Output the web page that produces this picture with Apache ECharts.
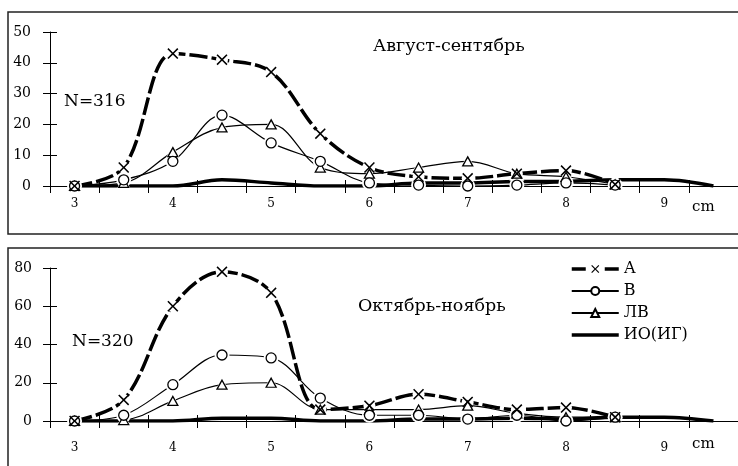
<!DOCTYPE html>
<html>
<head>
<meta charset="utf-8">
<script src="https://cdn.jsdelivr.net/npm/echarts@6/dist/echarts.min.js"></script>
<style>
html, body { margin: 0; padding: 0; background: #fff; }
#chart { width: 738px; height: 466px; }
</style>
</head>
<body>
<div id="chart"></div>
<script>
// длина, см (категории оси X)
const sizes = ['3', '3.5', '4', '4.5', '5', '5.5', '6', '6.5', '7', '7.5', '8', '8.5', '9', '9.5']

// август-сентябрь
const augA = [0, 6, 43, 41, 37, 17, 6, 3, 2.5, 4, 5, 0.5]
const augB = [0, 2, 8, 23, 14, 8, 1, 0.3, 0, 0.3, 1, 0.3]
const augLV = [0, 1, 11, 19, 20, 6, 4, 6, 8, 4, 3, 0.5]
const augIO = [0, 0, 0, 2, 1, 0, 0, 1, 1, 1.5, 1.5, 2, 2, 0]

// октябрь-ноябрь
const octA = [0, 11, 60, 78, 67, 6, 8, 14, 10, 6, 7, 2]
const octB = [0, 3, 19, 34.5, 33, 12, 3, 3, 1, 3, 0, 2]
const octLV = [0, 0.5, 10.5, 19, 20, 6, 6, 6, 8, 4, 2, 2]
const octIO = [0, 0, 0, 1.5, 1.5, 0, 0, 1, 1, 1.5, 1, 2, 2, 0]

const font = 'DejaVu Serif'
const crossPath = 'path://M0,1L1,0L5,4L9,0L10,1L6,5L10,9L9,10L5,6L1,10L0,9L4,5Z'

function xAxes (gi, margin) {
    return [{
        type: 'category',
        gridIndex: gi,
        position: 'bottom',
        data: sizes,
        axisLine: { show: true, lineStyle: { color: '#000', width: 1 } },
        axisTick: { show: true, interval: 0, length: 7, lineStyle: { color: '#000', width: 1 } },
        axisLabel: { interval: 1, margin: margin, color: '#000', fontFamily: font, fontSize: 12 },
        splitLine: { show: false }
    }, {
        type: 'category',
        gridIndex: gi,
        position: 'bottom',
        offset: 0,
        data: sizes,
        axisLine: { show: false },
        axisTick: { show: true, interval: 0, inside: true, length: 6, lineStyle: { color: '#000', width: 1 } },
        axisLabel: { show: false },
        splitLine: { show: false }
    }]
}

function yAxes (gi, max, step, margin) {
    return [{
        type: 'value',
        gridIndex: gi,
        position: 'left',
        min: 0,
        max: max,
        interval: step,
        axisLine: { show: true, lineStyle: { color: '#000', width: 1 } },
        axisTick: { show: true, length: 7, lineStyle: { color: '#000', width: 1 } },
        axisLabel: { margin: margin, color: '#000', fontFamily: font, fontSize: 14 },
        splitLine: { show: false }
    }, {
        type: 'value',
        gridIndex: gi,
        position: 'left',
        offset: 0,
        min: 0,
        max: max,
        interval: step,
        axisLine: { show: false },
        axisTick: { show: true, inside: true, length: 7, lineStyle: { color: '#000', width: 1 } },
        axisLabel: { show: false },
        splitLine: { show: false }
    }]
}

// точки для маркеров: [категория, значение]
function points (arr) {
    return arr.map((v, i) => [sizes[i], v])
}

function markers (gi, arr, symbol, size, style) {
    const idx = gi * 2
    return [{
        // белый ореол вокруг маркера
        name: 'halo',
        type: 'scatter',
        xAxisIndex: idx,
        yAxisIndex: idx,
        z: 3,
        silent: true,
        data: points(arr),
        symbol: symbol === crossPath ? 'circle' : symbol,
        symbolSize: symbol === crossPath ? 12 : (Array.isArray(size) ? [size[0] + 5, size[1] + 5] : size + 5),
        itemStyle: { color: '#fff', opacity: 1 }
    }, {
        name: 'mark',
        type: 'scatter',
        xAxisIndex: idx,
        yAxisIndex: idx,
        z: 4,
        silent: true,
        data: points(arr),
        symbol: symbol,
        symbolSize: size,
        itemStyle: style
    }]
}

function seriesSet (gi, a, b, lv, io) {
    const xi = gi * 2
    const yi = gi * 2
    const openStyle = { color: '#fff', borderColor: '#000', borderWidth: 1.3, opacity: 1 }
    return [{
        name: 'ИО(ИГ)',
        type: 'line',
        xAxisIndex: xi,
        yAxisIndex: yi,
        data: io,
        smooth: 0.35,
        symbol: 'none',
        lineStyle: { color: '#000', width: 3.5 },
        itemStyle: { color: '#000' }
    }, {
        name: 'ЛВ',
        type: 'line',
        xAxisIndex: xi,
        yAxisIndex: yi,
        data: lv,
        smooth: 0.35,
        symbol: 'triangle',
        symbolSize: [10, 9],
        showSymbol: false,
        lineStyle: { color: '#000', width: 1.2 },
        itemStyle: openStyle
    }, {
        name: 'В',
        type: 'line',
        xAxisIndex: xi,
        yAxisIndex: yi,
        data: b,
        smooth: 0.35,
        symbol: 'circle',
        symbolSize: 10,
        showSymbol: false,
        lineStyle: { color: '#000', width: 1.2 },
        itemStyle: openStyle
    }, {
        name: 'А',
        type: 'line',
        xAxisIndex: xi,
        yAxisIndex: yi,
        data: a,
        smooth: 0.35,
        symbol: crossPath,
        symbolSize: 11,
        showSymbol: false,
        lineStyle: { color: '#000', width: 3.5, type: [18, 4] },
        itemStyle: { color: '#000' }
    }]
        .concat(markers(gi, lv, 'triangle', [10, 9], openStyle))
        .concat(markers(gi, b, 'circle', 10, openStyle))
        .concat(markers(gi, a, crossPath, 11, { color: '#000', opacity: 1 }))
}

const myChart = echarts.init(document.getElementById('chart'))
myChart.setOption({
    animation: false,
    backgroundColor: '#fff',
    grid: [
        { left: 50, right: 0, top: 32, height: 154 },
        { left: 50, right: 0, top: 268, height: 153 }
    ],
    xAxis: xAxes(0, 12).concat(xAxes(1, 21)),
    yAxis: yAxes(0, 50, 10, 19).concat(yAxes(1, 80, 20, 18)),
    legend: {
        orient: 'vertical',
        left: 570,
        top: 261,
        padding: 0,
        itemWidth: 47,
        itemHeight: 10,
        itemGap: 6,
        data: [
            { name: 'А', lineStyle: { width: 3.5, type: [14, 19] } },
            { name: 'В' },
            { name: 'ЛВ' },
            { name: 'ИО(ИГ)', icon: 'path://M0,0H47V3.5H0Z' }
        ],
        textStyle: { color: '#000', fontFamily: font, fontSize: 16 }
    },
    graphic: [
        { type: 'rect', z: -1, shape: { x: 8, y: 12, width: 740, height: 222 }, style: { fill: 'none', stroke: '#222', lineWidth: 1.5 } },
        { type: 'rect', z: -1, shape: { x: 8, y: 248, width: 740, height: 230 }, style: { fill: 'none', stroke: '#222', lineWidth: 1.5 } },
        { type: 'text', left: 373, top: 37, style: { text: 'Август-сентябрь', fill: '#000', font: '17.5px "DejaVu Serif"' } },
        { type: 'text', left: 64, top: 93, style: { text: 'N=316', fill: '#000', font: '17px "DejaVu Serif"' } },
        { type: 'text', left: 692, top: 200, style: { text: 'cm', fill: '#000', font: '15px "DejaVu Serif"' } },
        { type: 'text', left: 358, top: 297, style: { text: 'Октябрь-ноябрь', fill: '#000', font: '17.5px "DejaVu Serif"' } },
        { type: 'text', left: 72, top: 333, style: { text: 'N=320', fill: '#000', font: '17px "DejaVu Serif"' } },
        { type: 'text', left: 692, top: 437, style: { text: 'cm', fill: '#000', font: '15px "DejaVu Serif"' } }
    ],
    series: seriesSet(0, augA, augB, augLV, augIO).concat(seriesSet(1, octA, octB, octLV, octIO))
})
</script>
</body>
</html>
